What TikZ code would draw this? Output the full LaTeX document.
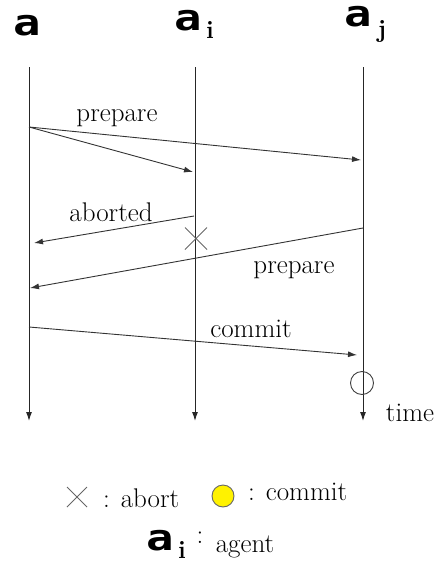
\documentclass[tikz,border=0pt]{standalone}
\usepackage{fontspec}
\newfontfamily\agentfont{DejaVu Sans Mono Bold}
\usetikzlibrary{arrows.meta,calc}
\newcommand{\agentA}{\scalebox{1.2}[0.95]{a}}
\begin{document}
\begin{tikzpicture}[x=1pt,y=-1pt,
  lbl/.style={inner sep=0pt,anchor=base,font=\fontsize{27}{30}\selectfont},
  agent/.style={inner sep=0pt,anchor=base,font=\agentfont\fontsize{38}{40}\selectfont},
  sub/.style={inner sep=0pt,anchor=base,font=\bfseries\fontsize{25}{27}\selectfont},
  life/.style={line width=1pt,draw=black!85,-{Latex[length=9pt,width=6pt]}},
  msg/.style={line width=0.9pt,draw=black!80,-{Latex[length=9pt,width=6pt]}},
  cross/.style={line width=1pt,draw=black!60}]
\useasboundingbox (0,0) rectangle (443,562);
% agent labels
\node[agent] (A) at (27.5,35) {\agentA};
\node[agent] (Ai) at (188,30.5) {\agentA};
\node[sub] (Ais) at (210,38) {i};
\node[agent] (Aj) at (358,26.5) {\agentA};
\node[sub] (Ajs) at (382,37) {j};
% lifelines
\coordinate (t0) at (29,67); \coordinate (b0) at (29,421);
\coordinate (t1) at (195,67); \coordinate (b1) at (195,421);
\coordinate (t2) at (363,67); \coordinate (b2) at (363,421);
\draw[life] (t0) -- (b0);
\draw[life] (t1) -- (b1);
\draw[life] (t2) -- (b2);
% messages
\coordinate (p0) at (29,127);
\coordinate (p1) at (193,172);
\coordinate (p2) at (361,160);
\draw[msg] (p0) -- (p1);
\draw[msg] (p0) -- (p2);
\node[lbl] (prep1) at (117,121) {prepare};
\coordinate (ab0) at (194,216);
\coordinate (ab1) at (34,243);
\draw[msg] (ab0) -- (ab1);
\node[lbl] (abl) at (111,221) {aborted};
\coordinate (x) at (196,238.5);
\draw[cross] ($(x)+(-11,-11)$) -- ($(x)+(11,11)$) ($(x)+(-11,11)$) -- ($(x)+(11,-11)$);
\coordinate (pr0) at (363,228);
\coordinate (pr1) at (30,288);
\draw[msg] (pr0) -- (pr1);
\node[lbl] (prep2) at (294,273) {prepare};
\coordinate (c0) at (29,327);
\coordinate (c1) at (357,355);
\draw[msg] (c0) -- (c1);
\node[lbl] (coml) at (251,337) {commit};
\node[draw=black!75,line width=0.9pt,circle,minimum size=23pt,inner sep=0pt] (cc) at (362,383) {};
\node[lbl] (time) at (410,421) {time};
% legend
\coordinate (lx) at (77,497);
\draw[cross] ($(lx)+(-10,-10)$) -- ($(lx)+(10,10)$) ($(lx)+(-10,10)$) -- ($(lx)+(10,-10)$);
\node[lbl,anchor=base west] (labort) at (103,507) {: abort};
\node[draw=black!60,fill=yellow,line width=0.9pt,circle,minimum size=22pt,inner sep=0pt] (lc) at (223,496) {};
\node[lbl,anchor=base west] (lcommit) at (248,500) {: commit};
\node[agent] (LA) at (160,550) {\agentA};
\node[sub] (LAs) at (182,558) {i};
\node[lbl] (lcol) at (200,543) {:};
\node[lbl] (lagent) at (245,552) {agent};
\end{tikzpicture}
\end{document}
